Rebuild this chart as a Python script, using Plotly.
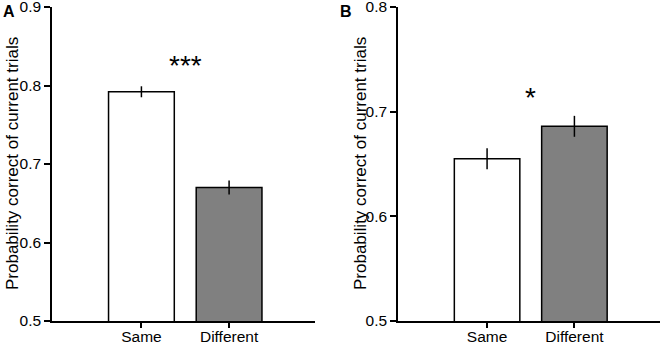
import plotly.graph_objects as go

categories = ["Same", "Different"]
a_values = [0.792, 0.670]
a_errors = [0.007, 0.009]
b_values = [0.655, 0.686]
b_errors = [0.010, 0.010]
bar_colors = ["#ffffff", "#808080"]
ytitle = "Probability correct of current trials"

W, H = 665, 346
FONT = "Liberation Sans, Arial, sans-serif"

fig = go.Figure()
xpos = list(range(len(categories)))
fig.add_trace(go.Bar(x=xpos, y=a_values, width=0.75, base=0,
                     marker=dict(color=bar_colors, line=dict(color="black", width=1.5)),
                     error_y=dict(type="data", array=a_errors, visible=True, color="black", thickness=1.5, width=0),
                     xaxis="x", yaxis="y", showlegend=False))
fig.add_trace(go.Bar(x=xpos, y=b_values, width=0.75, base=0,
                     marker=dict(color=bar_colors, line=dict(color="black", width=1.5)),
                     error_y=dict(type="data", array=b_errors, visible=True, color="black", thickness=1.5, width=0),
                     xaxis="x2", yaxis="y2", showlegend=False))

yd = [25 / H, 339 / H]
common_x = dict(range=[-1.02, 1.98], tickmode="array", tickvals=xpos, ticktext=categories,
                showline=True, linecolor="black", linewidth=1.5, ticks="outside", ticklen=5,
                tickwidth=1.5, tickcolor="black", showgrid=False, zeroline=False,
                ticklabeloverflow="allow", ticklabelstandoff=-4, automargin=False,
                tickfont=dict(family=FONT, size=15.5, color="black"))
common_y = dict(showline=True, linecolor="black", linewidth=1.5, ticks="outside", ticklen=6,
                tickwidth=1.5, tickcolor="black", showgrid=False, zeroline=False,
                ticklabeloverflow="allow", automargin=False,
                tickfont=dict(family=FONT, size=15.5, color="black"))

ymid = (yd[0] + yd[1]) / 2
fig.update_layout(
    width=W, height=H, margin=dict(l=0, r=0, t=0, b=0),
    paper_bgcolor="white", plot_bgcolor="white",
    xaxis=dict(domain=[52 / W, 315 / W], anchor="y", **common_x),
    yaxis=dict(domain=yd, anchor="x", range=[0.5, 0.9], tickvals=[0.5, 0.6, 0.7, 0.8, 0.9],
               ticktext=["0.5", "0.6", "0.7", "0.8", "0.9"], **common_y),
    xaxis2=dict(domain=[398 / W, 660 / W], anchor="y2", **common_x),
    yaxis2=dict(domain=yd, anchor="x2", range=[0.5, 0.8], tickvals=[0.5, 0.6, 0.7, 0.8],
                ticktext=["0.5", "0.6", "0.7", "0.8"], **common_y),
    annotations=[
        dict(text=ytitle, x=12 / W, y=ymid, xref="paper", yref="paper", textangle=-90,
             xanchor="center", yanchor="middle", showarrow=False,
             font=dict(family=FONT, size=17, color="black")),
        dict(text=ytitle, x=360 / W, y=ymid, xref="paper", yref="paper", textangle=-90,
             xanchor="center", yanchor="middle", showarrow=False,
             font=dict(family=FONT, size=17, color="black")),
        dict(text="***", x=0.5, y=0.826, xref="x", yref="y", showarrow=False,
             font=dict(family=FONT, size=28, color="black")),
        dict(text="*", x=0.5, y=0.714, xref="x2", yref="y2", showarrow=False,
             font=dict(family=FONT, size=28, color="black")),
        dict(text="<b>A</b>", x=1 / W, y=1 - 1 / H, xref="paper", yref="paper", xanchor="left",
             yanchor="top", showarrow=False, font=dict(family=FONT, size=16, color="black")),
        dict(text="<b>B</b>", x=338 / W, y=1 - 1 / H, xref="paper", yref="paper", xanchor="left",
             yanchor="top", showarrow=False, font=dict(family=FONT, size=16, color="black")),
    ],
)

fig.write_html("out.html", config={"displayModeBar": False},
               post_script="document.body.style.margin='0px';")
